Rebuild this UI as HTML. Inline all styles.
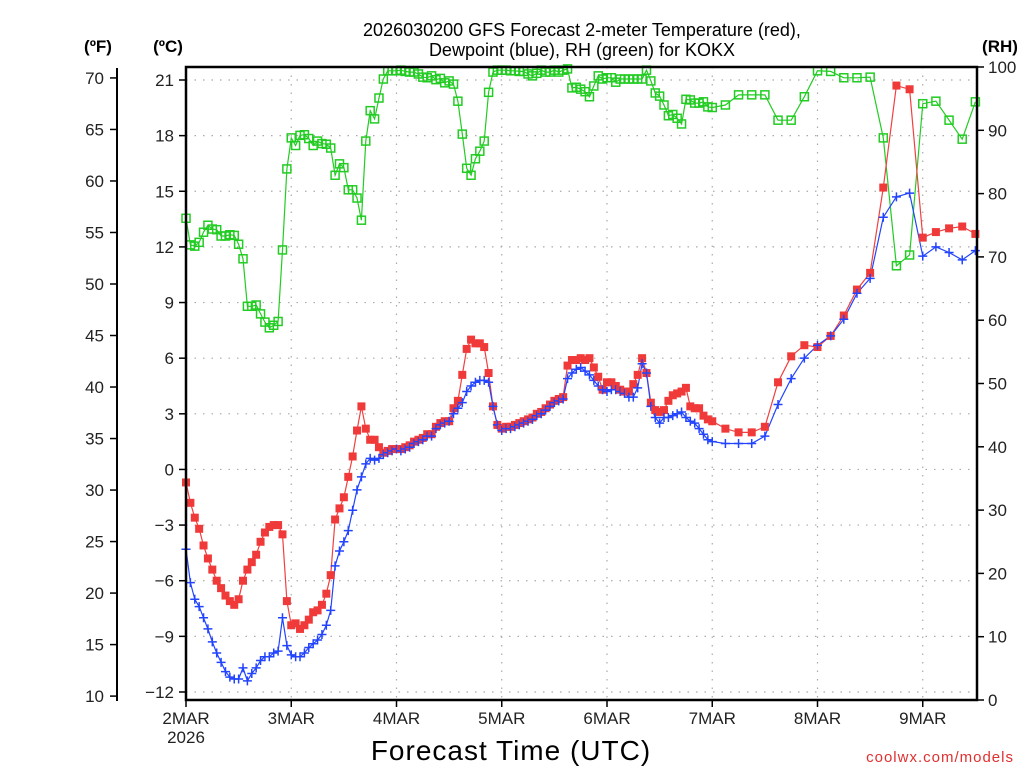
<!DOCTYPE html>
<html><head><meta charset="utf-8">
<style>
html,body{margin:0;padding:0;background:#fff;}
svg text{font-family:"Liberation Sans",sans-serif;}
</style></head>
<body>
<svg id="chart" width="1024" height="768" xmlns="http://www.w3.org/2000/svg">
<g>
<text x="582" y="36" text-anchor="middle" font-size="18" fill="#000">2026030200 GFS Forecast 2-meter Temperature (red),</text>
<text x="582" y="56" text-anchor="middle" font-size="18" fill="#000">Dewpoint (blue), RH (green) for KOKX</text>
</g>
<text x="98" y="52" text-anchor="middle" font-size="17" font-weight="bold">(ºF)</text>
<text x="168" y="52" text-anchor="middle" font-size="17" font-weight="bold">(ºC)</text>
<text x="1000" y="52" text-anchor="middle" font-size="17" font-weight="bold">(RH)</text>
<g id="grid"></g>
<g id="axes"></g>
<g id="series"></g>
<rect x="186" y="67" width="791" height="633" fill="none" stroke="#000" stroke-width="2.5"/>
<text x="511" y="760" text-anchor="middle" font-size="28" letter-spacing="1">Forecast Time (UTC)</text>
<text x="1014" y="762" text-anchor="end" font-size="15" fill="#e03030" font-family="Liberation Mono" letter-spacing="1">coolwx.com/models</text>
</svg>
<script>
// ---- data ----
const dayLabels = ["2MAR","3MAR","4MAR","5MAR","6MAR","7MAR","8MAR","9MAR"];
const fTicks = [10,15,20,25,30,35,40,45,50,55,60,65,70];
const cTicks = [-12,-9,-6,-3,0,3,6,9,12,15,18,21];
const rhTicks = [0,10,20,30,40,50,60,70,80,90,100];
const hoursHourly = Array.from({length:121},(_,i)=>i);
const hours3 = [123,126,129,132,135,138,141,144,147,150,153,156,159,162,165,168,171,174,177,180];
const hours = hoursHourly.concat(hours3);
const tempC = [-0.7,-1.8,-2.6,-3.2,-4.1,-4.8,-5.4,-6.0,-6.4,-6.8,-7.1,-7.3,-7.0,-6.0,-5.4,-5.0,-4.6,-3.9,-3.4,-3.1,-3.0,-3.0,-3.5,-7.1,
-8.4,-8.3,-8.6,-8.4,-8.1,-7.7,-7.6,-7.3,-6.7,-5.7,-2.7,-2.1,-1.5,-0.4,0.7,2.1,3.4,2.2,1.6,1.6,1.2,0.9,1.0,1.1,
1.1,1.1,1.2,1.3,1.5,1.6,1.7,1.9,1.9,2.3,2.5,2.6,2.6,3.3,3.7,5.1,6.5,7.0,6.8,6.8,6.6,5.2,3.4,2.4,
2.2,2.3,2.3,2.4,2.5,2.6,2.7,2.8,3.0,3.1,3.3,3.5,3.7,3.8,3.9,5.6,5.9,5.9,6.0,5.9,6.0,5.5,5.0,4.3,
4.7,4.7,4.5,4.3,4.2,4.2,4.6,5.1,6.0,5.2,3.6,3.2,3.1,3.2,3.7,4.0,4.1,4.2,4.4,3.4,3.3,3.3,2.9,2.7,2.6,
2.2,2.0,2.0,2.3,4.7,6.1,6.7,6.6,7.2,8.3,9.7,10.6,15.2,20.7,20.5,12.5,12.8,13.0,13.1,12.7];
const dewC = [-4.3,-6.1,-7.0,-7.4,-8.0,-8.6,-9.3,-9.9,-10.4,-10.9,-11.2,-11.3,-11.3,-10.7,-11.4,-11.0,-10.7,-10.3,-10.1,-10.1,-9.9,-9.8,-8.0,-9.5,
-10.0,-10.1,-10.1,-9.9,-9.6,-9.4,-9.2,-8.9,-8.4,-7.6,-5.2,-4.4,-3.9,-3.3,-2.2,-1.1,-0.4,0.3,0.6,0.5,0.6,0.8,0.9,1.0,
1.1,1.0,1.1,1.2,1.4,1.5,1.6,1.8,1.8,2.2,2.4,2.5,2.6,3.0,3.3,3.6,4.2,4.5,4.7,4.8,4.8,4.7,3.4,2.4,
2.1,2.2,2.2,2.3,2.4,2.5,2.6,2.7,2.9,3.0,3.2,3.4,3.6,3.7,3.8,4.9,5.2,5.4,5.5,5.3,5.1,4.8,4.5,4.3,
4.2,4.3,4.3,4.2,4.1,3.9,3.9,4.4,5.7,5.2,3.4,2.8,2.5,2.8,2.8,2.9,3.0,3.1,2.8,2.6,2.5,2.2,1.9,1.6,1.5,
1.4,1.4,1.4,1.8,3.5,4.9,6.0,6.7,7.2,8.1,9.5,10.3,13.6,14.7,14.9,11.5,12.0,11.7,11.3,11.8];
const rhPct = [76.1,71.9,71.7,72.3,73.9,75.0,74.4,74.3,73.3,73.3,73.5,73.4,72.0,69.7,62.2,62.2,62.4,61.0,59.7,58.8,59.2,59.8,71.1,83.9,
88.8,87.6,89.2,89.3,88.7,87.6,88.3,87.9,87.8,87.2,82.9,84.7,84.1,80.6,80.6,79.3,75.8,88.3,93.1,91.8,95.1,98.1,99.4,99.4,
99.4,99.5,99.3,99.2,99.2,98.9,98.4,98.3,98.6,98.0,98.2,97.5,97.8,97.3,94.6,89.4,84.0,82.9,85.5,86.7,88.3,96.0,99.2,99.5,
99.5,99.5,99.4,99.4,99.3,99.3,98.9,98.6,99.0,99.5,99.2,99.2,99.5,99.2,99.5,99.7,96.7,96.8,96.5,96.1,95.3,97.0,98.6,98.1,
98.3,98.3,97.6,98.1,98.1,98.1,98.1,98.1,98.1,99.5,97.8,95.9,95.4,94.0,92.3,92.5,91.9,91.0,94.9,94.8,94.3,94.3,94.5,93.7,93.6,
94.0,95.6,95.6,95.6,91.6,91.6,95.3,99.4,99.3,98.3,98.3,98.4,88.8,68.6,70.3,94.2,94.6,91.6,88.6,94.5];

// ---- scales ----
const X0=186, PXDAY=105.25;
const xOf = h => X0 + h*PXDAY/24;
const yC = c => 80 + (21-c)*18.545;
const yF = f => yC((f-32)*5/9);
const yRH = r => 700 - r*6.33;
const NS="http://www.w3.org/2000/svg";
function mk(tag, attrs, parent){const e=document.createElementNS(NS,tag);for(const k in attrs)e.setAttribute(k,attrs[k]);parent.appendChild(e);return e;}
const grid=document.getElementById('grid'), axes=document.getElementById('axes'), series=document.getElementById('series');

// grid & C ticks
cTicks.forEach(c=>{
  const y=yC(c);
  const g=mk('line',{x1:186,x2:977,y1:y,y2:y,stroke:'#aaa','stroke-width':1.2,'stroke-dasharray':'1.5 7'},grid);
  
  
  const t=mk('line',{x1:179,x2:186,y1:y,y2:y,stroke:'#000','stroke-width':1.5},axes);
  
  
  const tx=mk('text',{x:174,y:y+6,'text-anchor':'end','font-size':17,fill:'#222'},axes);
  tx.textContent = c<0 ? '\u2212'+Math.abs(c) : String(c);
  
  
});
// F axis
const fl=mk('line',{x1:117,x2:117,y1:68,y2:701,stroke:'#000','stroke-width':2},axes);


fTicks.forEach(f=>{
  const y=yF(f);
  const t=mk('line',{x1:110,x2:117,y1:y,y2:y,stroke:'#000','stroke-width':1.5},axes);
  
  
  const tx=mk('text',{x:104,y:y+6,'text-anchor':'end','font-size':17,fill:'#222'},axes);
  tx.textContent=String(f);
  
  
});
// RH axis
rhTicks.forEach(r=>{
  const y=yRH(r);
  const t=mk('line',{x1:977,x2:984,y1:y,y2:y,stroke:'#000','stroke-width':1.5},axes);
  
  
  const tx=mk('text',{x:988,y:y+6,'font-size':17,fill:'#222'},axes);
  tx.textContent=String(r);
  
  
});
// days
dayLabels.forEach((d,i)=>{
  const x=xOf(i*24);
  if(i>0){
    const g=mk('line',{x1:x,x2:x,y1:67,y2:700,stroke:'#aaa','stroke-width':1.2,'stroke-dasharray':'1.5 7'},grid);
    
    
  }
  const t=mk('line',{x1:x,x2:x,y1:700,y2:707,stroke:'#000','stroke-width':1.5},axes);
  
  
  const tx=mk('text',{x:x,y:724,'text-anchor':'middle','font-size':17,fill:'#222'},axes);
  tx.textContent=d;
  
  
});
const yr=mk('text',{x:xOf(0),y:743,'text-anchor':'middle','font-size':17,fill:'#222'},axes);
yr.textContent='2026';



// series
function drawLine(vals, yfn, color, name){
  const pts=hours.map((h,i)=>xOf(h).toFixed(1)+','+yfn(vals[i]).toFixed(1)).join(' ');
  const l=mk('polyline',{points:pts,fill:'none',stroke:color,'stroke-width':1.2},series);
  
  
}
drawLine(rhPct,yRH,'#22cc22','rh-line');
drawLine(tempC,yC,'#f04040','temperature-line');
drawLine(dewC,yC,'#2244ff','dewpoint-line');
hours.forEach((h,i)=>{
  const x=xOf(h);
  const g=mk('rect',{x:x-4,y:yRH(rhPct[i])-4,width:8,height:8,fill:'none',stroke:'#22cc22','stroke-width':1.5},series);
  
  
  const r=mk('rect',{x:x-4,y:yC(tempC[i])-4,width:8,height:8,fill:'#f03a3a'},series);
  
  
  const yd=yC(dewC[i]);
  const b=mk('path',{d:`M${x-4.5},${yd}h9M${x},${yd-4.5}v9`,stroke:'#2244ff','stroke-width':1.5,fill:'none'},series);
  
  
});
</script>
</body></html>
